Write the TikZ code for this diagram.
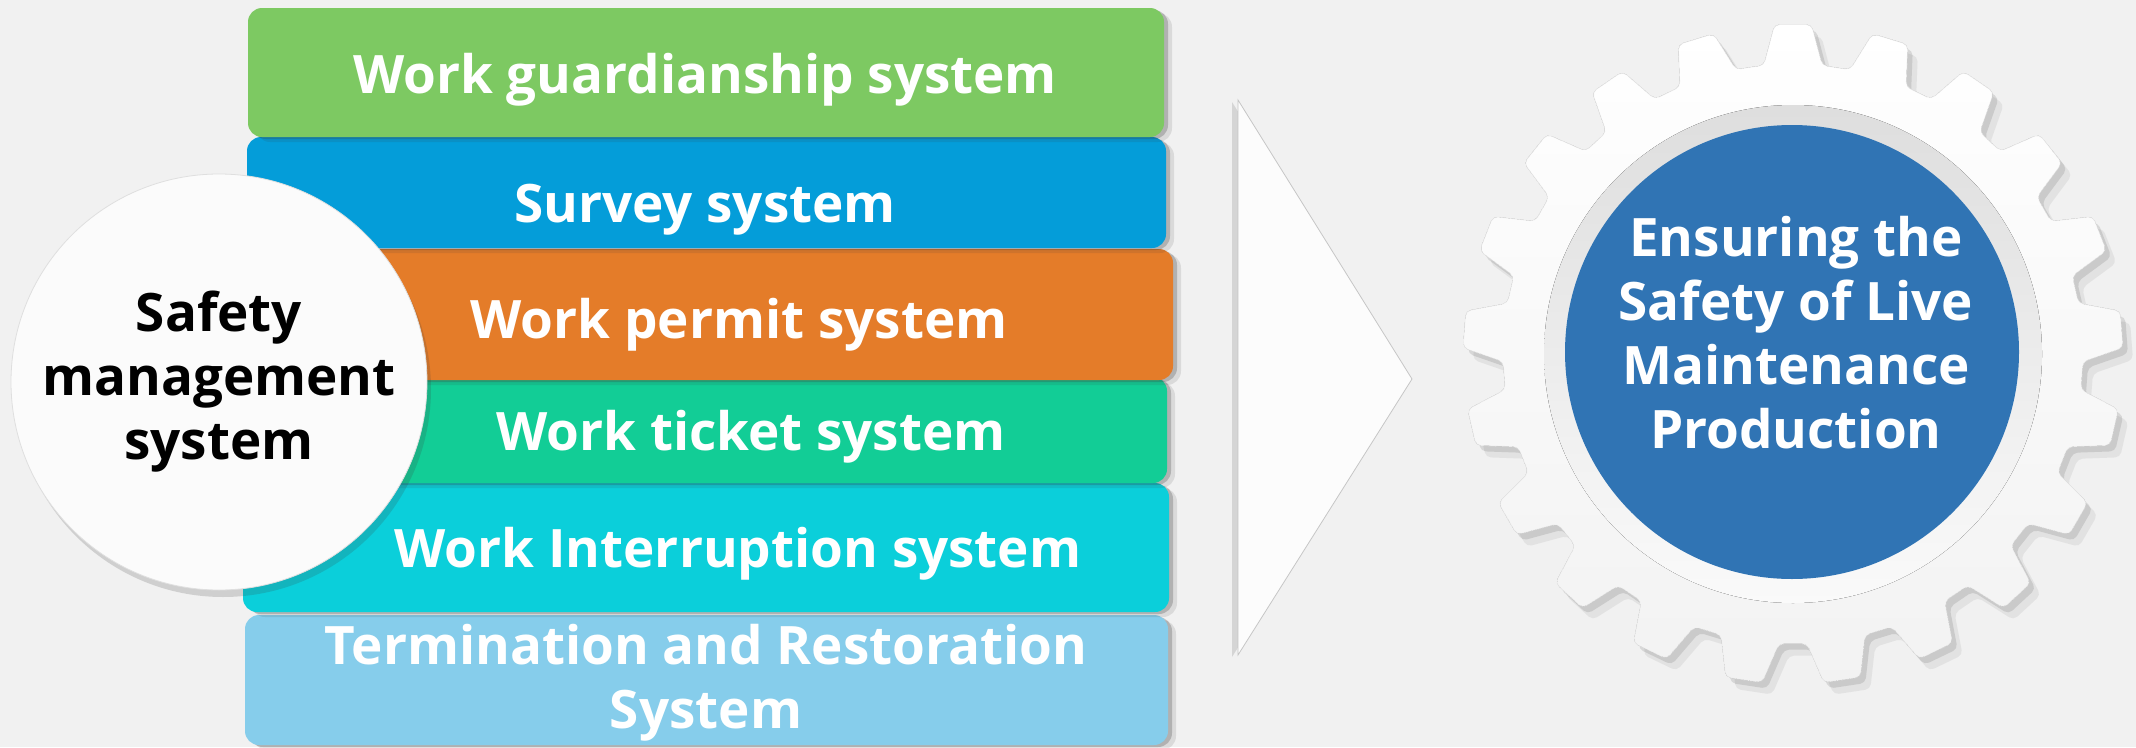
\documentclass[tikz,border=0pt]{standalone}
\usepackage{fontspec}
\setmainfont{Open Sans}
\usetikzlibrary{shadows}
\definecolor{SMBack}{HTML}{F1F1F1}
\definecolor{SMGreen}{HTML}{7DC962}
\definecolor{SMBlue}{HTML}{049DD9}
\definecolor{SMOrange}{HTML}{E47C29}
\definecolor{SMTeal}{HTML}{12CD96}
\definecolor{SMCyan}{HTML}{0BCFDA}
\definecolor{SMSky}{HTML}{86CDEB}
\definecolor{SMNavy}{HTML}{3074B4}
\definecolor{SMShade}{HTML}{3A3A3A}
\tikzset{
  smFont/.style={
    font=\fontsize{53pt}{64pt}\selectfont\bfseries
  },
  smBar/.style={
    rectangle,
    rounded corners=14pt,
    inner sep=0pt,
    draw=none,
    drop shadow={shadow xshift=8pt, shadow yshift=-5pt, opacity=.12, fill=SMShade},
    drop shadow={shadow xshift=4pt, shadow yshift=-2pt, opacity=.25, fill=SMShade}
  },
  smLabel/.style={
    smFont,
    text=white,
    inner sep=0pt,
    anchor=base
  },
  smHub/.style={
    circle,
    minimum size=416pt,
    inner sep=0pt,
    fill=white!97!gray,
    draw=gray!25,
    line width=0.8pt,
    smFont,
    text=black,
    align=center,
    drop shadow={shadow xshift=4pt, shadow yshift=-7pt, opacity=.18, fill=SMShade}
  },
  smArrow/.style={
    fill=white!98!gray,
    draw=gray!45,
    line width=0.8pt,
    drop shadow={shadow xshift=-6pt, shadow yshift=-2pt, opacity=.15, fill=SMShade}
  },
  smGear/.style={
    top color=white,
    bottom color=gray!10,
    draw=gray!15,
    line width=0.6pt,
    rounded corners=5pt,
    drop shadow={shadow xshift=10pt, shadow yshift=-12pt, opacity=.08, fill=SMShade},
    drop shadow={shadow xshift=5pt, shadow yshift=-6pt, opacity=.14, fill=SMShade}
  },
  smRing/.style={
    top color=gray!26,
    bottom color=gray!4
  },
  smGoal/.style={
    circle,
    minimum size=454pt,
    inner sep=0pt,
    fill=SMNavy
  }
}

\begin{document}
\begin{tikzpicture}[x=1pt, y=-1pt]
  \useasboundingbox (0,0) rectangle (2136,747);
  \fill[SMBack] (0,0) rectangle (2136,747);

  % stacked bars, lowest first so each shadow falls on the next one
  \node[smBar, fill=SMSky, minimum width=923pt, minimum height=130pt] (restore) at (706.5,680) {};
  \node[smBar, fill=SMCyan, minimum width=926pt, minimum height=129pt] (interrupt) at (706,547.5) {};
  \node[smBar, fill=SMTeal, minimum width=919pt, minimum height=106pt] (ticket) at (707.5,430) {};
  \node[smBar, fill=SMOrange, minimum width=925pt, minimum height=131pt] (permit) at (710.5,314.5) {};
  \node[smBar, fill=SMBlue, minimum width=919pt, minimum height=111pt] (survey) at (706.5,192.5) {};
  \node[smBar, fill=SMGreen, minimum width=916pt, minimum height=129pt] (guard) at (706,72.5) {};

  \node[smHub] (safety) at (219,382) {Safety\\management\\system};

  \node[smLabel] (guardText) at (705,93) {Work guardianship system};
  \node[smLabel] (surveyText) at (705,222) {Survey system};
  \node[smLabel] (permitText) at (739,338) {Work permit system};
  \node[smLabel] (ticketText) at (751,450) {Work ticket system};
  \node[smLabel] (interruptText) at (738,567) {Work Interruption system};
  \node[smLabel, anchor=center, align=center] (restoreText) at (706,683) {Termination and Restoration\\System};

  % pointer
  \coordinate (tipTop) at (1238,100);
  \coordinate (tipPoint) at (1412,379);
  \coordinate (tipBottom) at (1238,655);
  \filldraw[smArrow] (tipTop) -- (tipPoint) -- (tipBottom) -- cycle;

  % gear, 21 teeth
  \begin{scope}[shift={(1793,354)}]
    \filldraw[smGear] (-98.57:290)
      \foreach \t in {0,...,20}{
        -- ({-90+\t*360/21-5.8}:290) -- ({-90+\t*360/21-3.2}:330)
        -- ({-90+\t*360/21+3.2}:330) -- ({-90+\t*360/21+5.8}:290)
      } -- cycle;
  \end{scope}
  \fill[smRing] (1793,354) circle[radius=249pt];
  \node[smGoal] (goal) at (1792,352) {};
  \node[smFont, text=white, align=center, inner sep=0pt] (goalText) at (1796,333) {Ensuring the\\Safety of Live\\Maintenance\\Production};
\end{tikzpicture}
\end{document}
